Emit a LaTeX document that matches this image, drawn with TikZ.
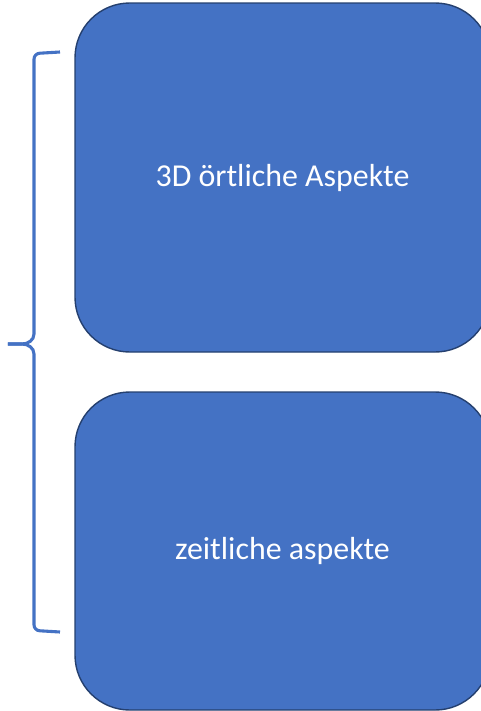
\documentclass[tikz,border=0pt]{standalone}
\usepackage{fontspec}
\setmainfont{Carlito}
\usepackage{xcolor}
\usepackage{tikz}

\definecolor{boxblue}{HTML}{4472C4}
\definecolor{boxline}{HTML}{25406F}

\begin{document}
\begin{tikzpicture}
        % Define styles
        \tikzset{
            aspect/.style={rectangle, rounded corners=39pt, draw=boxline, line width=1pt, fill=boxblue, text=white, font=\fontsize{22.7}{27}\selectfont},
            brace/.style={draw=boxblue, line width=2.2pt}
        }

        \useasboundingbox (0,0) rectangle (12,-17.775);

        % Nodes
        \node[aspect, minimum width=10.375cm, minimum height=8.725cm] (ort_node) at (7.0625,-4.4375) {3D örtliche Aspekte};
        \node[aspect, minimum width=10.375cm, minimum height=7.95cm] (zeit_node) at (7.0625,-13.775) {zeitliche aspekte};

        % Brace
        \coordinate (brace_top) at (1.5,-1.3);
        \coordinate (brace_tip) at (0.2,-8.6);
        \coordinate (brace_bottom) at (1.5,-15.8);
        \draw[brace] (brace_top) -- (1.0,-1.33) to[out=180,in=90] (0.85,-1.48) -- (0.85,-8.35) to[out=-90,in=0] (0.55,-8.6) -- (brace_tip);
        \draw[brace] (brace_tip) -- (0.55,-8.6) to[out=0,in=90] (0.85,-8.85) -- (0.85,-15.62) to[out=-90,in=180] (1.0,-15.77) -- (brace_bottom);
    \end{tikzpicture}
\end{document}
